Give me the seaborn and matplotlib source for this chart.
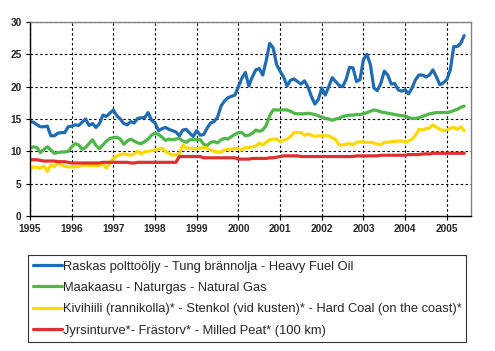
import numpy as np
import pandas as pd
import matplotlib
matplotlib.use("Agg")
import matplotlib.pyplot as plt
import seaborn as sns

# monthly prices, Jan 1995 - Jun 2005
heavy_fuel_oil = [
    14.6, 14.5, 14.1, 13.8, 13.8, 13.9, 12.4, 12.4, 12.8, 12.9, 12.9, 13.8,
    13.9, 14.1, 14.0, 14.5, 15.0, 14.0, 14.3, 13.7, 14.3, 15.6, 15.4, 15.9,
    16.4, 15.5, 15.0, 14.3, 14.1, 14.6, 14.4, 15.1, 15.2, 15.2, 16.0, 14.8,
    14.4, 13.2, 13.5, 13.7, 13.4, 13.2, 13.0, 12.4, 13.3, 13.4, 12.8, 12.3,
    13.2, 12.5, 12.6, 13.6, 14.4, 14.6, 15.3, 17.0, 17.8, 18.3, 18.5, 18.7,
    20.0, 21.3, 22.2, 20.1, 21.5, 22.6, 22.8, 21.8, 24.0, 26.7, 26.0, 23.4,
    22.4, 21.5, 20.1, 21.0, 21.2, 20.8, 20.4, 20.9, 20.0, 18.5, 17.3, 18.0,
    19.8, 18.7, 20.0, 21.4, 20.8, 20.2, 20.0, 21.1, 23.0, 22.9, 20.8, 21.1,
    24.2, 25.0, 23.4, 19.8, 19.4, 20.5, 22.4, 21.8, 20.4, 20.5, 19.5, 19.3,
    19.5, 18.9, 19.8, 21.1, 21.8, 21.8, 21.5, 21.8, 22.6, 21.5, 20.3, 20.6,
    21.1, 22.6, 26.2, 26.2, 26.7, 27.9,
]
natural_gas = [
    10.5, 10.7, 10.6, 9.8, 10.3, 10.7, 10.2, 9.7, 9.8, 9.9, 9.9, 10.0,
    10.7, 11.2, 11.0, 10.3, 10.6, 11.2, 11.8, 10.9, 10.4, 11.0, 11.6, 12.0,
    12.1, 12.2, 11.9, 11.1, 11.6, 11.9, 11.6, 11.3, 11.2, 11.5, 11.9, 12.5,
    12.8, 12.6, 12.2, 11.7, 11.9, 11.8, 11.9, 12.0, 11.6, 11.4, 11.8, 11.8,
    11.8, 11.8, 11.1, 10.9, 11.4, 11.5, 11.3, 11.8, 12.0, 11.9, 12.3, 12.6,
    12.9, 12.9, 12.4, 12.5, 12.8, 13.3, 13.1, 13.3, 14.0, 15.5, 16.4, 16.4,
    16.4, 16.4, 16.4, 16.2, 15.9, 15.8, 15.8, 15.8, 15.9, 15.8, 15.7, 15.5,
    15.3, 15.1, 15.0, 14.8, 15.0, 15.1, 15.4, 15.5, 15.6, 15.6, 15.7, 15.7,
    15.8, 16.0, 16.2, 16.4, 16.3, 16.1, 16.0, 15.9, 15.8, 15.7, 15.6, 15.5,
    15.5, 15.2, 15.1, 15.1, 15.2, 15.4, 15.6, 15.8, 15.9, 16.0, 16.0, 16.0,
    16.0, 16.1, 16.3, 16.5, 16.8, 17.0,
]
hard_coal = [
    7.2, 7.6, 7.5, 7.4, 7.7, 6.9, 7.9, 7.6, 8.3, 7.9, 7.7, 7.6,
    7.6, 7.6, 7.7, 7.8, 7.9, 7.8, 7.8, 7.8, 7.8, 8.1, 7.4, 8.2,
    8.9, 9.3, 9.5, 9.6, 9.5, 9.4, 9.6, 10.0, 9.6, 9.9, 10.0, 10.1,
    10.2, 10.3, 10.5, 10.0, 9.7, 9.4, 9.5, 9.6, 11.0, 10.5, 10.5, 10.4,
    10.4, 10.5, 10.6, 10.5, 10.2, 10.0, 9.9, 9.9, 10.2, 10.3, 10.3, 10.5,
    10.4, 10.2, 10.6, 10.6, 10.7, 10.8, 11.3, 11.0, 11.4, 11.8, 11.9, 11.9,
    11.5, 11.7, 11.9, 12.3, 12.9, 12.9, 12.9, 12.5, 12.7, 12.5, 12.3, 12.4,
    12.4, 12.4, 12.4, 12.1, 11.8, 11.0, 11.0, 11.1, 11.2, 11.0, 11.4, 11.5,
    11.4, 11.4, 11.4, 11.3, 11.1, 11.0, 11.4, 11.4, 11.5, 11.5, 11.6, 11.6,
    11.5, 11.6, 11.9, 12.5, 13.4, 13.3, 13.5, 13.6, 14.1, 13.7, 13.4, 13.2,
    13.3, 13.6, 13.7, 13.4, 13.8, 13.2,
]
milled_peat = [
    8.7, 8.7, 8.7, 8.6, 8.5, 8.5, 8.5, 8.5, 8.4, 8.4, 8.4, 8.3,
    8.2, 8.2, 8.2, 8.2, 8.2, 8.2, 8.2, 8.2, 8.2, 8.3, 8.3, 8.3,
    8.3, 8.3, 8.3, 8.3, 8.3, 8.2, 8.2, 8.3, 8.3, 8.3, 8.3, 8.3,
    8.3, 8.3, 8.3, 8.3, 8.3, 8.3, 8.3, 9.2, 9.2, 9.2, 9.2, 9.2,
    9.2, 9.2, 9.0, 9.0, 9.0, 9.0, 9.0, 9.0, 9.0, 9.0, 9.0, 9.0,
    8.8, 8.8, 8.8, 8.8, 8.9, 8.9, 8.9, 8.9, 8.9, 9.0, 9.0, 9.1,
    9.2, 9.3, 9.3, 9.3, 9.3, 9.3, 9.2, 9.2, 9.2, 9.2, 9.2, 9.2,
    9.2, 9.2, 9.2, 9.2, 9.2, 9.2, 9.2, 9.2, 9.2, 9.2, 9.3, 9.3,
    9.3, 9.3, 9.3, 9.3, 9.3, 9.4, 9.4, 9.4, 9.4, 9.4, 9.4, 9.4,
    9.4, 9.5, 9.5, 9.5, 9.5, 9.6, 9.6, 9.6, 9.7, 9.7, 9.7, 9.7,
    9.7, 9.7, 9.7, 9.7, 9.7, 9.7,
]

labels = [
    "Raskas polttoöljy - Tung brännolja - Heavy Fuel Oil",
    "Maakaasu - Naturgas - Natural Gas",
    "Kivihiili (rannikolla)* - Stenkol (vid kusten)* - Hard Coal (on the coast)*",
    "Jyrsinturve*- Frästorv* - Milled Peat* (100 km)",
]
colors = ["#1F6CB4", "#4DB748", "#FFD800", "#E0302E"]
year_ticks = list(range(1995, 2006))

months = 1995 + np.arange(len(heavy_fuel_oil)) / 12
frames = []
for lab, vals in zip(labels, [heavy_fuel_oil, natural_gas, hard_coal, milled_peat]):
    frames.append(pd.DataFrame({"year": months, "price": vals, "series": lab}))
df = pd.concat(frames, ignore_index=True)

sns.set_style("white")
plt.rcParams["font.family"] = ["Liberation Sans", "DejaVu Sans"]

fig = plt.figure(figsize=(4.95, 3.51), dpi=100)
ax = fig.add_axes([0.0606, 0.3846, 0.8909, 0.5527])

sns.lineplot(data=df, x="year", y="price", hue="series", palette=colors,
             linewidth=2.3, ax=ax)

ax.set_xlim(1995, 2005.58)
ax.set_ylim(0, 30)
ax.set_xticks(year_ticks)
ax.set_yticks(range(0, 31, 5))
ax.set_xlabel("")
ax.set_ylabel("")
ax.grid(True, color="black", linestyle=(0, (2.2, 2.2)), linewidth=0.8)
ax.set_axisbelow(True)
ax.tick_params(axis="both", length=3, width=0.8, color="black", pad=3,
               labelsize=7.3, direction="out", left=True, bottom=True)
for t in ax.get_xticklabels() + ax.get_yticklabels():
    t.set_fontweight("bold")
for s in ["left", "bottom"]:
    ax.spines[s].set_color("black")
    ax.spines[s].set_linewidth(1)
for s in ["top", "right"]:
    ax.spines[s].set_color("#808080")
    ax.spines[s].set_linewidth(1)

handles, labs = ax.get_legend_handles_labels()
ax.get_legend().remove()
leg = fig.legend(handles, labs, loc="lower left",
                 bbox_to_anchor=(0.0566, 0.0256, 0.885, 0.245), mode="expand",
                 borderaxespad=0, fontsize=9.3, frameon=True, fancybox=False,
                 edgecolor="black", handlelength=2.2, handletextpad=0.1,
                 labelspacing=0.72, borderpad=0.42)
leg.get_frame().set_linewidth(0.8)
for h in leg.get_lines():
    h.set_linewidth(2.3)

fig.savefig("out.png", dpi=100)
